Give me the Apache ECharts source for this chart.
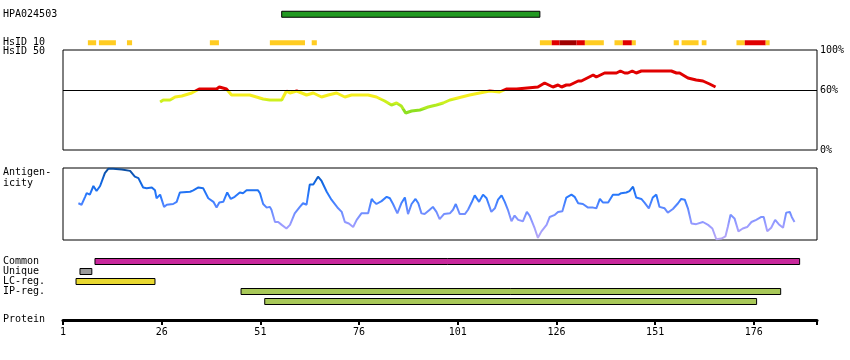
<!DOCTYPE html>
<html><head><meta charset="utf-8">
<script src="https://cdn.jsdelivr.net/npm/echarts@6/dist/echarts.min.js"></script>
<style>html,body{margin:0;padding:0;background:#fff}#c{width:850px;height:360px}</style>
</head><body><div id="c"></div>
<script>
// ---------- data ----------
const proteinLength = 192;
const tickResidues = [1, 26, 51, 76, 101, 126, 151, 176];

const hpaNames = ['HPA024503'];
const hpaStart = [56.4];
const hpaEnd = [121.8];

// HsID 10 blocks (level 1 = orange, 2 = red, 3 = dark red)
const h10Start = [7.3, 10.1, 17.2, 38.2, 53.4, 64.0, 121.8, 124.8, 126.8, 131.1, 133.2, 140.7, 142.8, 145.1, 155.7, 157.7, 162.8, 171.6, 173.7, 179.0];
const h10End   = [9.4, 14.4, 18.5, 40.5, 62.3, 65.3, 124.8, 126.8, 131.1, 133.2, 138.0, 142.8, 145.1, 146.1, 157.0, 162.0, 164.0, 173.7, 179.0, 180.0];
const h10Level = [1, 1, 1, 1, 1, 1, 1, 2, 3, 2, 1, 1, 2, 1, 1, 1, 1, 1, 2, 1];

// HsID 50 identity (%)
const hsRes = [25.6,26.4,28.1,29.4,31.1,33.6,35.5,39.9,40.6,42.4,43.7,48.3,50.0,51.7,53.4,56.4,57.6,58.5,60.2,62.7,64.4,66.5,68.2,70.3,72.4,74.1,76.6,78.3,80.4,82.5,84.2,85.5,86.7,87.8,89.3,91.4,93.5,95.6,97.3,99.0,104.0,109.1,111.6,113.3,115.9,116.3,121.3,123.0,125.1,126.4,127.3,128.5,129.4,131.5,132.3,135.3,136.1,138.2,141.2,142.2,143.3,144.1,145.2,146.2,147.5,155.1,156.4,157.2,159.3,161.4,163.1,164.8,166.3];
const hsVal = [48,50,50,53,54,57,61,61,63,61,55,55,53,51,50,50,59,57,59,55,57,53,55,57,53,55,55,55,53,49,45,47,44,37,39,40,43,45,47,50,55,59,58,61,61,63,63,67,63,65,63,65,65,69,69,75,73,77,77,79,77,77,79,77,79,79,77,77,72,70,69,66,63];

// Antigenicity (relative, 0-100)
const antRes = [
 4.9,5.7,6.6,7.0,7.8,8.7,9.5,10.4,11.6,12.5,
 13.7,15.9,18.0,19.2,20.1,21.3,22.2,23.5,24.3,24.7,
 25.6,26.6,27.3,28.9,29.8,30.6,33.2,34.0,35.3,36.5,
 37.8,39.1,39.9,40.6,41.6,42.6,43.5,44.5,45.8,46.6,
 47.5,47.9,48.8,50.4,50.9,51.7,52.6,53.4,53.8,54.7,
 55.5,56.4,57.6,58.5,59.7,61.0,61.8,62.7,63.5,64.4,
 65.6,66.5,67.8,69.0,70.7,71.6,72.4,73.4,74.5,75.4,
 76.6,78.3,79.2,79.6,80.4,81.7,83.0,83.8,84.6,85.7,
 86.7,87.6,88.4,89.3,90.3,91.0,91.8,92.6,93.9,94.7,
 95.6,96.4,97.5,99.0,99.8,100.5,101.5,102.8,103.6,104.5,
 105.3,106.4,107.4,108.3,109.5,110.4,111.2,112.1,112.9,113.7,
 114.6,115.4,116.3,117.5,118.5,119.2,120.5,121.3,122.2,123.5,
 124.3,125.6,126.4,127.5,128.5,129.8,130.6,131.5,132.7,134.0,
 135.3,136.1,137.0,137.8,139.1,140.3,141.8,142.4,143.7,144.5,
 145.4,146.2,147.5,148.3,149.4,150.4,151.3,152.1,153.4,154.2,
 155.5,156.8,157.6,158.5,159.3,160.2,161.4,163.1,164.4,165.5,
 166.5,167.8,168.8,169.4,170.1,171.1,172.1,173.2,174.3,175.4,
 176.6,177.9,178.5,179.4,180.4,181.4,182.3,183.4,184.2,185.1,
 185.6,186.3];
const antVal = [
 51,49,60,65,63,75,68,75,93,99,
 99,98,96,88,86,73,72,73,69,58,
 63,46,49,50,53,66,67,69,73,72,
 58,53,45,52,53,66,57,60,66,65,
 69,71,69,69,65,50,45,46,42,25,
 25,21,16,21,37,46,51,49,77,77,
 88,82,67,56,44,39,25,23,18,28,
 37,37,57,54,50,54,60,58,50,37,
 51,59,36,50,57,51,37,36,42,46,
 39,29,36,37,42,50,36,36,42,52,
 62,53,63,58,39,44,56,62,53,42,
 26,34,28,26,39,34,16,3,12,21,
 32,35,39,40,59,63,60,51,50,45,
 45,44,57,52,52,63,63,65,66,68,
 74,59,57,52,44,59,63,46,44,38,
 43,51,57,56,44,23,22,25,21,16,
 1,2,5,18,35,30,12,16,18,25,
 28,32,32,12,17,28,22,17,38,39,
 32,25];

// Feature tracks
const trackNames = ['Common', 'Unique', 'LC-reg.', 'IP-reg.', ''];
const trackStart = [9.1, 5.3, 4.3, 46.1, 52.1];
const trackEnd   = [187.6, 8.3, 24.3, 182.8, 176.7];

// ---------- styles ----------
const FONT = 'DejaVu Sans Mono';
const levelColors = {1: '#ffcc22', 2: '#e00000', 3: '#a00000'};
const trackColors = ['#c8289c', '#999999', '#e8d830', '#a8c858', '#a8c858'];
const L = 63, R = 33;

function barRender(h, stroke) {
  return function (params, api) {
    const s = api.coord([api.value(0), api.value(2)]);
    const e = api.coord([api.value(1), api.value(2)]);
    return {
      type: 'rect',
      shape: {x: s[0], y: s[1] - h / 2, width: e[0] - s[0], height: h},
      style: {fill: api.visual('color'), stroke: stroke || null, lineWidth: stroke ? 1 : 0}
    };
  };
}

const hpaData = hpaStart.map((s, i) => ({value: [s, hpaEnd[i], 0], itemStyle: {color: '#229922'}}));
const h10Data = h10Start.map((s, i) => ({value: [s, h10End[i], 1], itemStyle: {color: levelColors[h10Level[i]]}}));
const hsData = hsRes.map((r, i) => [r, hsVal[i]]);
const antData = antRes.map((r, i) => [r, antVal[i]]);
const trackData = trackStart.map((s, i) => ({value: [s, trackEnd[i], i], itemStyle: {color: trackColors[i]}}));

const xHidden = (g) => ({type: 'value', gridIndex: g, min: 1, max: proteinLength, show: false});
const leftLabel = {interval: 0, align: 'left', margin: 60, fontFamily: FONT, fontSize: 10, color: '#000'};

const option = {
  animation: false,
  backgroundColor: '#fff',
  grid: [
    {left: L, right: R, top: -3, height: 60},
    {left: L, right: R, top: 50, height: 100, show: true, borderColor: '#000', borderWidth: 1},
    {left: L, right: R, top: 168, height: 72, show: true, borderColor: '#000', borderWidth: 1},
    {left: L, right: R, top: 256.5, height: 50},
    {left: L, right: R, top: 300, height: 20}
  ],
  xAxis: [
    xHidden(0), xHidden(1), xHidden(2), xHidden(3),
    {
      type: 'value', gridIndex: 4, min: 1, max: proteinLength,
      axisLine: {show: true, lineStyle: {color: '#000', width: 3}},
      axisTick: {show: true, customValues: tickResidues.concat([proteinLength]), length: 5, lineStyle: {color: '#000', width: 2}},
      axisLabel: {customValues: tickResidues, fontFamily: FONT, fontSize: 10, color: '#000', margin: 7},
      splitLine: {show: false}
    }
  ],
  yAxis: [
    {type: 'category', gridIndex: 0, data: hpaNames.concat(['HsID 10']), inverse: true,
     axisLine: {show: false}, axisTick: {show: false}, axisLabel: leftLabel},
    {type: 'value', gridIndex: 1, min: 0, max: 100, position: 'right',
     axisLine: {show: false}, axisTick: {show: false}, splitLine: {show: false},
     axisLabel: {customValues: [0, 60, 100], formatter: '{value}%', margin: 3, fontFamily: FONT, fontSize: 10, color: '#000'}},
    {type: 'value', gridIndex: 2, min: 0, max: 100, show: false},
    {type: 'category', gridIndex: 3, data: trackNames, inverse: true,
     axisLine: {show: false}, axisTick: {show: false}, axisLabel: leftLabel},
    {type: 'value', gridIndex: 4, show: false}
  ],
  visualMap: [
    {type: 'piecewise', show: false, seriesIndex: 2, dimension: 1,
     pieces: [
       {gte: 60, color: '#e00000'},
       {gte: 51, lt: 60, color: '#f4ee1e'},
       {gte: 46, lt: 51, color: '#cdf01e'},
       {gte: 41, lt: 46, color: '#b0ea20'},
       {lt: 41, color: '#8ee020'}
     ]},
    {type: 'continuous', show: false, seriesIndex: 3, dimension: 1, min: 0, max: 100,
     inRange: {color: ['#b8a8f4', '#9c9cff', '#6a8cff', '#2c7aff', '#1066e0', '#0a4a98']}}
  ],
  graphic: [
    {type: 'text', left: 3, top: 46, style: {text: 'HsID 50', font: '10px ' + FONT, fill: '#000'}},
    {type: 'text', left: 3, top: 167, style: {text: 'Antigen-\nicity', font: '10px ' + FONT, fill: '#000', lineHeight: 11}},
    {type: 'text', left: 3, top: 314, style: {text: 'Protein', font: '10px ' + FONT, fill: '#000'}}
  ],
  series: [
    {type: 'custom', xAxisIndex: 0, yAxisIndex: 0, renderItem: barRender(6, '#000'), data: hpaData},
    {type: 'custom', xAxisIndex: 0, yAxisIndex: 0, renderItem: barRender(5, null), data: h10Data},
    {type: 'line', xAxisIndex: 1, yAxisIndex: 1, data: hsData, showSymbol: false, lineStyle: {width: 3},
     markLine: {silent: true, symbol: 'none', label: {show: false}, lineStyle: {color: '#000', width: 1, type: 'solid'}, data: [{yAxis: 60}]}},
    {type: 'line', xAxisIndex: 2, yAxisIndex: 2, data: antData, showSymbol: false, lineStyle: {width: 2}},
    {type: 'custom', xAxisIndex: 3, yAxisIndex: 3, renderItem: barRender(6, '#000'), data: trackData},
    {type: 'line', xAxisIndex: 4, yAxisIndex: 4, data: []}
  ]
};
const chart = echarts.init(document.getElementById('c'));
chart.setOption(option);
</script>
</body></html>
